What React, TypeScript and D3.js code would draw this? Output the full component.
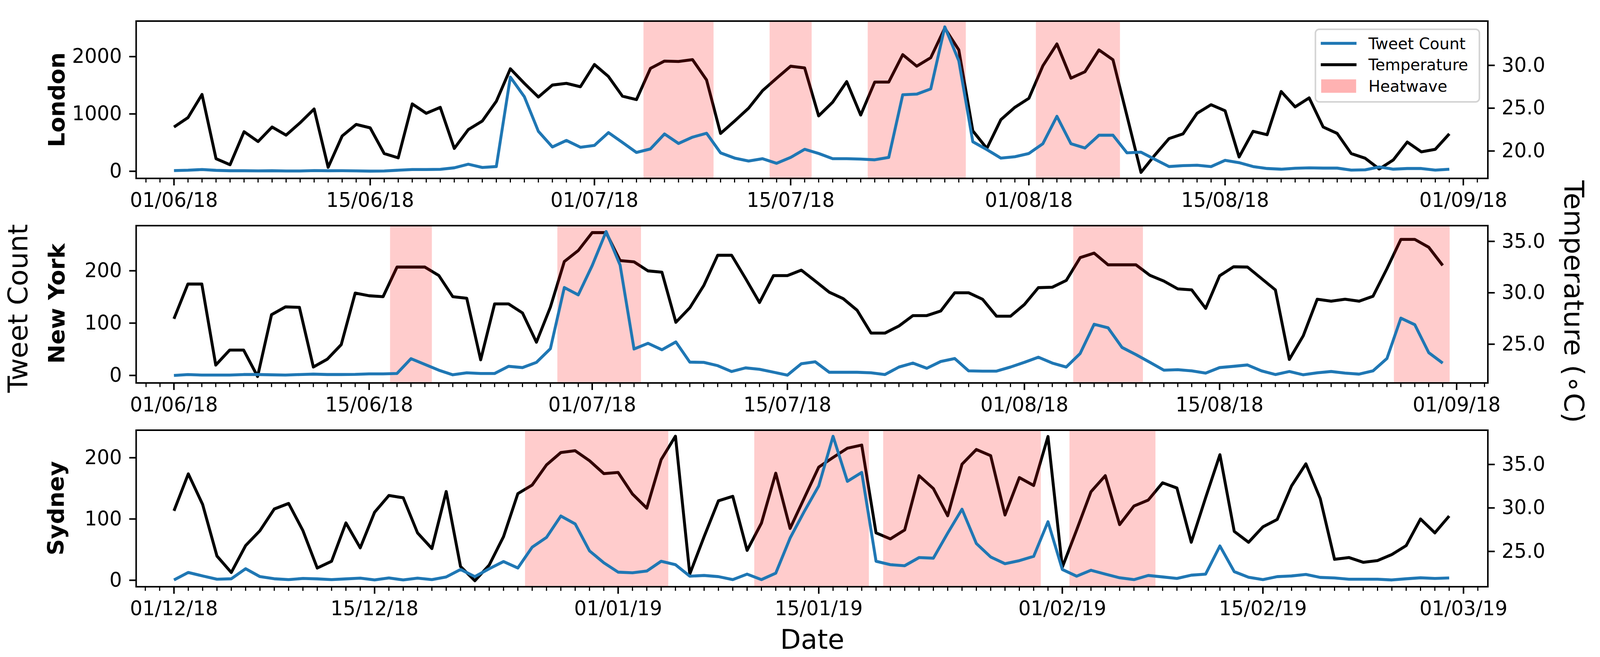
import React, { useEffect, useRef } from 'react';
import * as d3 from 'd3';

const londonTweets = [12, 18, 30, 16, 9, 9, 7, 9, 5, 5, 12, 9, 10, 7, 2, 5, 18, 30, 30, 34, 60, 123, 66, 82, 1642, 1300, 697, 424, 538, 419, 451, 674, 503, 328, 390, 651, 485, 595, 663, 321, 230, 178, 219, 139, 241, 383, 310, 219, 219, 212, 200, 241, 1335, 1346, 1437, 2519, 1927, 515, 378, 230, 253, 310, 481, 959, 481, 405, 629, 629, 321, 333, 207, 82, 98, 105, 82, 191, 150, 82, 48, 36, 52, 59, 55, 55, 20, 25, 75, 36, 48, 48, 20, 36];
const londonTemp = [22.8, 23.9, 26.6, 19.1, 18.4, 22.25, 21.1, 22.8, 21.85, 23.3, 24.9, 18.1, 21.75, 23.1, 22.7, 19.7, 19.2, 25.5, 24.4, 25.1, 20.3, 22.5, 23.5, 25.8, 29.6, 27.9, 26.3, 27.7, 27.9, 27.5, 30.1, 28.7, 26.4, 26.0, 29.65, 30.5, 30.45, 30.67, 28.3, 22.05, 23.5, 25.0, 27.05, 28.5, 29.9, 29.7, 24.1, 25.7, 28.1, 24.2, 28.05, 28.05, 31.25, 29.9, 30.9, 34.35, 31.8, 22.35, 20.3, 23.65, 25.1, 26.15, 29.95, 32.5, 28.5, 29.25, 31.8, 30.65, 24.1, 17.5, 19.55, 21.45, 22.0, 24.4, 25.4, 24.7, 19.3, 22.3, 21.9, 26.95, 25.15, 26.2, 22.8, 22.05, 19.7, 19.15, 17.9, 18.95, 21.05, 19.9, 20.2, 22.0];
const londonHeatwaves = [[33.5, 38.5], [42.5, 45.5], [49.5, 56.5], [61.5, 67.5]];

const newYorkTweets = [0, 1.7, 0.7, 0.7, 0.7, 1.7, 1.7, 1.2, 0.7, 1.7, 2.5, 1.7, 1.7, 2, 3, 3, 3.7, 32, 21, 10, 1.2, 5, 3.7, 3.7, 17.4, 15, 25, 51, 168, 154, 210, 275, 211, 50.5, 61.4, 49, 64, 25.4, 25, 18.7, 7.5, 14.4, 11.7, 6.2, 0.5, 22.4, 26, 6, 6, 6, 5, 1.7, 16, 23.6, 13.7, 26.6, 32.3, 8.7, 8.2, 8.2, 16, 25, 34.8, 23.6, 16, 42, 97.8, 91, 53.5, 39.8, 25, 10, 11, 8.7, 4.5, 15, 17.4, 20, 8.7, 1.7, 7.5, 1.2, 5, 7.5, 4.5, 2.5, 8.7, 32.3, 109.5, 97, 43.5, 23.6];
const newYorkTemp = [27.47, 30.85, 30.85, 22.97, 24.43, 24.43, 21.86, 27.87, 28.63, 28.58, 22.78, 23.54, 24.96, 29.97, 29.71, 29.62, 32.5, 32.5, 32.5, 31.68, 29.62, 29.47, 23.48, 28.92, 28.92, 28.04, 25.19, 28.6, 33.04, 34.11, 35.85, 35.85, 33.13, 33.01, 32.13, 32.0, 27.13, 28.54, 30.7, 33.65, 33.65, 31.39, 29.05, 31.67, 31.67, 32.2, 31.14, 30.06, 29.43, 28.3, 26.08, 26.08, 26.77, 27.78, 27.78, 28.23, 30, 30, 29.37, 27.72, 27.72, 28.86, 30.5, 30.54, 31.2, 33.42, 33.86, 32.72, 32.72, 32.72, 31.7, 31.14, 30.38, 30.28, 28.48, 31.65, 32.53, 32.5, 31.39, 30.28, 23.52, 25.82, 29.37, 29.18, 29.37, 29.18, 29.66, 32.34, 35.19, 35.19, 34.43, 32.66];
const newYorkHeatwaves = [[15.5, 18.5], [27.5, 33.5], [64.5, 69.5], [87.5, 91.5]];

const sydneyTweets = [0.5, 12.7, 7, 1.7, 2.4, 18.8, 5.9, 2.4, 1, 2.9, 2.2, 1, 2.2, 3.4, 0.5, 3.7, 0.5, 3.4, 1, 5.4, 17.6, 5.9, 18.8, 30.5, 20, 54, 70, 104.9, 92, 48, 28.5, 13.2, 12.2, 15, 31, 25.4, 6.6, 7.8, 5.9, 1, 10, 1, 11.5, 68.8, 112.7, 154, 235, 161.5, 176, 31, 25.4, 23.7, 37, 36, 77, 116, 60, 38, 27, 32, 39, 95.6, 17.6, 6.6, 16.3, 10, 4, 1, 7.8, 5.4, 2.9, 8.3, 10, 56, 14, 4.9, 1, 5.9, 7, 9.5, 4.6, 3.7, 1.7, 1.7, 1.7, 0.5, 2.4, 4, 2.9, 3.7];
const sydneyTemp = [29.67, 33.92, 30.4, 24.47, 22.58, 25.67, 27.39, 29.88, 30.52, 27.39, 23.09, 23.87, 28.28, 25.41, 29.5, 31.43, 31.17, 27.13, 25.33, 31.89, 23.26, 21.63, 23.43, 26.7, 31.65, 32.63, 34.95, 36.37, 36.58, 35.43, 33.95, 34.08, 31.6, 29.97, 35.55, 38.25, 22.4, 26.7, 30.82, 31.34, 25.12, 28.25, 34.0, 27.65, 31.17, 34.69, 35.8, 36.87, 37.23, 27.13, 26.44, 27.47, 33.71, 32.23, 29.1, 35.03, 36.72, 36.01, 29.19, 33.49, 32.58, 38.21, 23.18, 27.47, 31.86, 33.71, 28.08, 30.22, 30.91, 32.89, 32.29, 26.05, 31.17, 36.12, 27.3, 26.05, 27.82, 28.68, 32.54, 35.07, 31.08, 24.09, 24.3, 23.75, 23.95, 24.64, 25.67, 28.73, 27.13, 29.07];
const sydneyHeatwaves = [[24.5, 34.5], [40.5, 48.5], [49.5, 60.5], [62.5, 68.5]];

const northernTicks = ['2018-06-01', '2018-06-15', '2018-07-01', '2018-07-15', '2018-08-01', '2018-08-15', '2018-09-01'];
const southernTicks = ['2018-12-01', '2018-12-15', '2019-01-01', '2019-01-15', '2019-02-01', '2019-02-15', '2019-03-01'];
const legendLabels = ['Tweet Count', 'Temperature', 'Heatwave'];

const BLUE = '#1f77b4';
const FONT = '"DejaVu Sans", sans-serif';
const LEFT = 354.5;
const RIGHT = 3874;

const panels = [
  { name: 'London', start: '2018-06-01', tweets: londonTweets, temp: londonTemp, heatwaves: londonHeatwaves, ticks: northernTicks, countTicks: [0, 1000, 2000], tempShown: [20, 25, 30], top: 54, bottom: 457, days: [-2.7, 93.75], countDomain: [-124.6, 2620], tempDomain: [16.8, 35.17], nameX: 168, nameY: 255.5 },
  { name: 'New York', start: '2018-06-01', tweets: newYorkTweets, temp: newYorkTemp, heatwaves: newYorkHeatwaves, ticks: northernTicks, countTicks: [0, 100, 200], tempShown: [25, 30, 35], top: 578, bottom: 981, days: [-2.71, 94.24], countDomain: [-14.4, 286.3], tempDomain: [21.23, 36.53], nameX: 168, nameY: 777.5 },
  { name: 'Sydney', start: '2018-12-01', tweets: sydneyTweets, temp: sydneyTemp, heatwaves: sydneyHeatwaves, ticks: southernTicks, countTicks: [0, 100, 200], tempShown: [25, 30, 35], top: 1102, bottom: 1503, days: [-2.64, 91.7], countDomain: [-10.6, 245], tempDomain: [20.94, 38.94], nameX: 166, nameY: 1302 },
];

const parseDay = d3.utcParse('%Y-%m-%d');
const formatDay = d3.utcFormat('%d/%m/%y');
const DAY_MS = 86400000;

const App: React.FC = () => {
  const svgRef = useRef<SVGSVGElement>(null);

  useEffect(() => {
    if (!svgRef.current) return;
    const svg = d3.select(svgRef.current);
    svg.selectAll('*').remove();

    panels.forEach(p => {
      const t0 = (parseDay(p.start) as Date).getTime();
      const toDate = (d: number) => new Date(t0 + d * DAY_MS);

      const x = d3.scaleUtc().domain([toDate(p.days[0]), toDate(p.days[1])]).range([LEFT, RIGHT]);
      const yCount = d3.scaleLinear().domain(p.countDomain).range([p.bottom, p.top]);
      const yTemp = d3.scaleLinear().domain(p.tempDomain).range([p.bottom, p.top]);

      const g = svg.append('g');

      const tempLine = d3.line<number>().x((_, i) => x(toDate(i))).y(d => yTemp(d));
      const countLine = d3.line<number>().x((_, i) => x(toDate(i))).y(d => yCount(d));

      // temperature sits under the shaded spans, tweets on top
      g.append('path')
        .attr('d', tempLine(p.temp))
        .attr('fill', 'none')
        .attr('stroke', '#000')
        .attr('stroke-width', 7.6)
        .attr('stroke-linejoin', 'round');

      g.selectAll('.span')
        .data(p.heatwaves)
        .enter()
        .append('rect')
        .attr('x', d => x(toDate(d[0])))
        .attr('width', d => x(toDate(d[1])) - x(toDate(d[0])))
        .attr('y', p.top)
        .attr('height', p.bottom - p.top)
        .attr('fill', '#ff0000')
        .attr('fill-opacity', 0.2);

      g.append('path')
        .attr('d', countLine(p.tweets))
        .attr('fill', 'none')
        .attr('stroke', BLUE)
        .attr('stroke-width', 7.6)
        .attr('stroke-linejoin', 'round');

      // spines
      g.append('rect')
        .attr('x', LEFT)
        .attr('y', p.top)
        .attr('width', RIGHT - LEFT)
        .attr('height', p.bottom - p.top)
        .attr('fill', 'none')
        .attr('stroke', '#000')
        .attr('stroke-width', 4);

      // daily minor ticks
      const minorDays = d3.range(Math.ceil(p.days[0]), Math.floor(p.days[1]) + 1).map(toDate);
      const minorAxis = g.append('g')
        .attr('transform', `translate(0,${p.bottom})`)
        .call(d3.axisBottom(x).tickValues(minorDays).tickSize(10.5).tickFormat(() => '').offset(0));
      minorAxis.select('.domain').remove();
      minorAxis.selectAll('line').attr('stroke-width', 3);

      // X axis
      const xAxis = g.append('g')
        .attr('transform', `translate(0,${p.bottom})`)
        .call(
          d3.axisBottom(x)
            .tickValues(p.ticks.map(s => parseDay(s) as Date))
            .tickFormat(d => formatDay(d as Date))
            .tickSize(18)
            .tickPadding(19)
            .offset(0)
        );
      xAxis.select('.domain').remove();
      xAxis.selectAll('line').attr('stroke-width', 4);
      xAxis.selectAll('text').attr('font-size', 51).attr('font-family', FONT).attr('fill', '#000');

      // Y axes
      const leftAxis = g.append('g')
        .attr('transform', `translate(${LEFT},0)`)
        .call(d3.axisLeft(yCount).tickValues(p.countTicks).tickFormat(d3.format('d')).tickSize(18).tickPadding(19).offset(0));
      leftAxis.select('.domain').remove();
      leftAxis.selectAll('line').attr('stroke-width', 4);
      leftAxis.selectAll('text').attr('font-size', 51).attr('font-family', FONT).attr('fill', '#000');

      const rightAxis = g.append('g')
        .attr('transform', `translate(${RIGHT},0)`)
        .call(d3.axisRight(yTemp).tickValues(p.tempShown).tickFormat(d3.format('.1f')).tickSize(18).tickPadding(18).offset(0));
      rightAxis.select('.domain').remove();
      rightAxis.selectAll('line').attr('stroke-width', 4);
      rightAxis.selectAll('text').attr('font-size', 51).attr('font-family', FONT).attr('fill', '#000');

      // city label
      svg.append('text')
        .attr('transform', `translate(${p.nameX},${p.nameY})rotate(-90)`)
        .attr('text-anchor', 'middle')
        .attr('font-family', FONT)
        .attr('font-weight', 'bold')
        .attr('font-size', 58.5)
        .text(p.name);
    });

    // shared axis labels
    svg.append('text')
      .attr('transform', 'translate(71,790)rotate(-90)')
      .attr('text-anchor', 'middle')
      .attr('font-family', FONT)
      .attr('font-size', 70)
      .text('Tweet Count');

    svg.append('text')
      .attr('transform', 'translate(4073,773)rotate(90)')
      .attr('text-anchor', 'middle')
      .attr('font-family', FONT)
      .attr('font-size', 71)
      .text('Temperature (∘C)');

    svg.append('text')
      .attr('x', 2115)
      .attr('y', 1662)
      .attr('text-anchor', 'middle')
      .attr('font-family', FONT)
      .attr('font-size', 70)
      .text('Date');

    // legend in the first panel
    const legend = svg.append('g');
    legend.append('rect')
      .attr('x', 3425)
      .attr('y', 75)
      .attr('width', 427)
      .attr('height', 186)
      .attr('rx', 10)
      .attr('fill', '#fff')
      .attr('fill-opacity', 0.8)
      .attr('stroke', '#d3d3d3')
      .attr('stroke-width', 4);
    legend.append('line').attr('x1', 3439).attr('x2', 3532).attr('y1', 111).attr('y2', 111).attr('stroke', BLUE).attr('stroke-width', 7.6);
    legend.append('line').attr('x1', 3439).attr('x2', 3532).attr('y1', 165.7).attr('y2', 165.7).attr('stroke', '#000').attr('stroke-width', 7.6);
    legend.append('rect').attr('x', 3440).attr('y', 203.3).attr('width', 91).attr('height', 34.4).attr('fill', '#ffb2b2');
    const legendY = d3.scalePoint<string>().domain(legendLabels).range([125.7, 235]);
    legend.selectAll('.label')
      .data(legendLabels)
      .enter()
      .append('text')
      .attr('x', 3563)
      .attr('y', d => legendY(d) as number)
      .attr('font-family', FONT)
      .attr('font-size', 41)
      .text(d => d);
  }, []);

  // the window can come out narrower than asked, so the 4166-wide drawing is fitted to it
  return (
    <svg
      ref={svgRef}
      viewBox="0 0 4166 1683"
      preserveAspectRatio="none"
      style={{ position: 'absolute', left: 0, top: 0, width: '100vw', height: '100vh', background: '#fff' }}
    />
  );
};

export default App;
